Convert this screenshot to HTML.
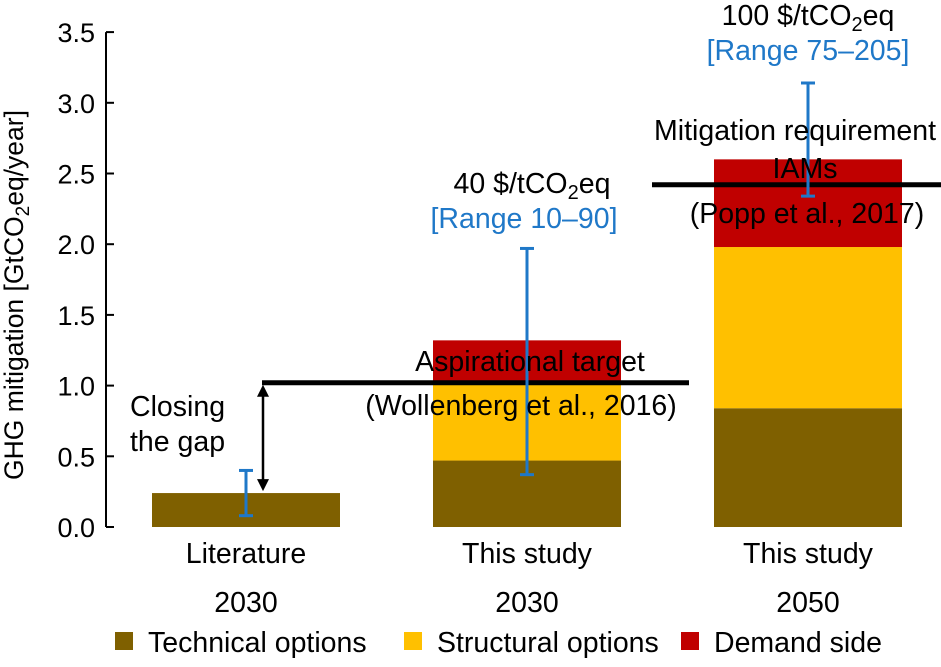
<!DOCTYPE html>
<html><head><meta charset="utf-8"><style>
body{margin:0;background:#fff;}
svg text{font-family:"Liberation Sans",Arial,sans-serif;}
</style></head><body>
<svg id="chart" width="941" height="662">
<g id="g"></g>
</svg>
<script>
const categories=["Literature|2030","This study|2030","This study|2050"];
const technical=[0.24,0.47,0.84];
const structural=[0,0.54,1.14];
const demand=[0,0.31,0.62];
const errLow=[0.08,0.37,2.34];
const errHigh=[0.40,1.97,3.14];
const yTicks=["0.0","0.5","1.0","1.5","2.0","2.5","3.0","3.5"];
const targets=[1.02,2.42];

const NS="http://www.w3.org/2000/svg";
const g=document.getElementById('g');
const svg=document.getElementById('chart');
const y=v=>527-v*141.4;
const barX=i=>152+i*281;
const barW=188;
const FS=28.5;
function el(t,a,txt){const e=document.createElementNS(NS,t);for(const k in a)e.setAttribute(k,a[k]);if(txt!==undefined)e.textContent=txt;g.appendChild(e);return e;}

let ax=el('line',{x1:106,x2:106,y1:y(0),y2:y(3.5),stroke:'#000','stroke-width':2});


yTicks.forEach(t=>{const v=parseFloat(t);
 let l=el('line',{x1:106,x2:114,y1:y(v),y2:y(v),stroke:'#000','stroke-width':2});
 
 
 let tx=el('text',{x:95,y:y(v)+10,'text-anchor':'end','font-size':27},t);
 
 
});
let yt=el('text',{transform:'translate(23,295) rotate(-90)','text-anchor':'middle','font-size':26.5},'');
yt.innerHTML='GHG mitigation [GtCO<tspan font-size="19" dy="6">2</tspan><tspan dy="-6">eq/year]</tspan>';



categories.forEach((c,i)=>{
 const x=barX(i);let base=0;
 [[technical,'#7f6000','bar-technical'],[structural,'#ffc000','bar-structural'],[demand,'#c00000','bar-demand']].forEach(([arr,col,nm])=>{
  const v=arr[i];if(v>0){let r=el('rect',{x:x,y:y(base+v),width:barW,height:y(base)-y(base+v),fill:col});
  
  }
  base+=v;});
 const [a,b]=c.split('|');
 let t1=el('text',{x:x+barW/2,y:563,'text-anchor':'middle','font-size':FS},a);
 
 
 let t2=el('text',{x:x+barW/2,y:612,'text-anchor':'middle','font-size':FS},b);
 
 
});
let tl1=el('line',{x1:262,x2:689,y1:y(targets[0]),y2:y(targets[0]),stroke:'#000','stroke-width':5});


let tl2=el('line',{x1:652,x2:941,y1:y(targets[1]),y2:y(targets[1]),stroke:'#000','stroke-width':5});


categories.forEach((c,i)=>{
 const cx=barX(i)+barW/2;
 const eg=document.createElementNS(NS,'g');g.appendChild(eg);
 
 
 [[cx,cx,y(errLow[i]),y(errHigh[i])],[cx-7,cx+7,y(errLow[i]),y(errLow[i])],[cx-7,cx+7,y(errHigh[i]),y(errHigh[i])]].forEach(p=>{
  const l=document.createElementNS(NS,'line');
  l.setAttribute('x1',p[0]);l.setAttribute('x2',p[1]);l.setAttribute('y1',p[2]);l.setAttribute('y2',p[3]);
  l.setAttribute('stroke','#1f78c8');l.setAttribute('stroke-width',3);eg.appendChild(l);});
});
let ar=el('g',{});


const ya=y(targets[0]), yb=y(technical[0]);
ar.innerHTML='<line x1="263" x2="263" y1="'+(ya+8)+'" y2="'+(yb-8)+'" stroke="#000" stroke-width="2.5"/><path d="M257 '+(ya+14)+' L263 '+(ya+2)+' L269 '+(ya+14)+'Z"/><path d="M257 '+(yb-14)+' L263 '+(yb-2)+' L269 '+(yb-14)+'Z"/>';

function T(x,y2,s,name,col,anchor,html){const e=document.createElementNS(NS,'text');e.setAttribute('x',x);e.setAttribute('y',y2);e.setAttribute('font-size',FS);e.setAttribute('text-anchor',anchor||'middle');e.setAttribute('fill',col||'#000');if(html)e.innerHTML=s;else e.textContent=s;svg.appendChild(e);


return e;}
T(130,416,'Closing','closing-label','#000','start');
T(130,451,'the gap','the-gap-label','#000','start');
T(532,193,'40 $/tCO<tspan font-size="20" dy="6">2</tspan><tspan dy="-6">eq</tspan>','price-2030','#000','middle',true);
T(524,228,'[Range 10–90]','range-2030','#1f78c8');
T(530,371,'Aspirational target','aspirational-label');
T(521,415,'(Wollenberg et al., 2016)','wollenberg-label');
T(808,25,'100 $/tCO<tspan font-size="20" dy="6">2</tspan><tspan dy="-6">eq</tspan>','price-2050','#000','middle',true);
T(808,60,'[Range 75–205]','range-2050','#1f78c8');
T(795,140,'Mitigation requirement','mitigation-label');
T(805,178,'IAMs','iams-label');
T(807,223,'(Popp et al., 2017)','popp-label');
[['#7f6000','Technical options',115],['#ffc000','Structural options',404],['#c00000','Demand side',681]].forEach(([c,t,x])=>{
 const r=document.createElementNS(NS,'rect');
 r.setAttribute('x',x);r.setAttribute('y',632);r.setAttribute('width',18);r.setAttribute('height',18);r.setAttribute('fill',c);svg.appendChild(r);
 
 
 T(x+33,652,t,'legend-entry','#000','start');
});
</script>
</body></html>
